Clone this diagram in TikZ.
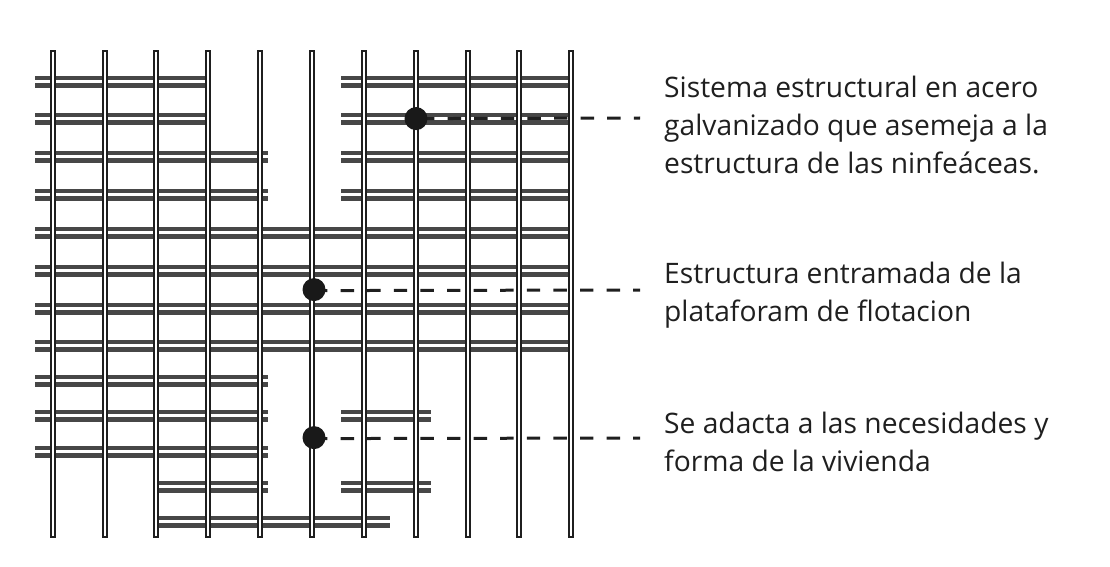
\documentclass[tikz,border=0pt]{standalone}
\usepackage{fontspec}
\setmainfont{Open Sans}
\begin{document}
\begin{tikzpicture}
  [
    x=1pt,y=-1pt,
    riel/.style={draw=black!72,line width=4.8pt,double=white,double distance=2.4pt,yshift=-0.6pt},
    perfil/.style={draw=black!88,line width=2pt,fill=white},
    punto/.style={circle,fill=black!90,minimum size=23pt,inner sep=0pt,yshift=-0.6pt},
    guia/.style={black!88,line width=3pt,dash pattern=on 13.4pt off 13.2pt,yshift=-0.6pt},
    nota/.style={anchor=base west,align=left,font=\fontsize{28.2}{38}\selectfont,text=black!88,inner sep=0pt}
  ]
  \useasboundingbox (0,0) rectangle (1110,567);
  % horizontal rows
  \foreach \y/\xa/\xb in {81/35/207,81/341/569,118/35/207,118/341/569,156/35/268,156/341/569,
      194/35/268,194/341/569,232/35/569,270/35/569,308/35/569,345/35/569,380/35/268,
      415/35/268,415/341/431,451/35/268,486/158/268,486/341/431,521/158/390} {
    \draw [riel] (\xa,\y) -- (\xb,\y);
  }
  % vertical bars
  \foreach \x in {53,105,156,208,260,312,364,416,468,519,571} {
    \draw [perfil] (\x-2.3,51) rectangle (\x+2.3,537);
  }
  % free ends
  \coordinate (finA) at (640,118);
  \coordinate (finB) at (640,290);
  \coordinate (finC) at (640,438);
  % leaders
  \draw [guia,dash phase=21.6pt] (416,118) -- (finA);
  \draw [guia] (314,290) -- (finB);
  \draw [guia] (314,438) -- (finC);
  % dots
  \node [punto] (puntoA) at (416,118) {};
  \node [punto] (puntoB) at (314,289) {};
  \node [punto] (puntoC) at (314,437) {};
  % labels
  \node [nota] (textoA) at (664,173) {Sistema estructural en acero\\galvanizado que asemeja a la\\estructura de las ninfeáceas.};
  \node [nota] (textoB) at (664,321) {Estructura entramada de la\\plataforam de flotacion};
  \node [nota] (textoC) at (664,471) {Se adacta a las necesidades y\\forma de la vivienda};
\end{tikzpicture}
\end{document}
